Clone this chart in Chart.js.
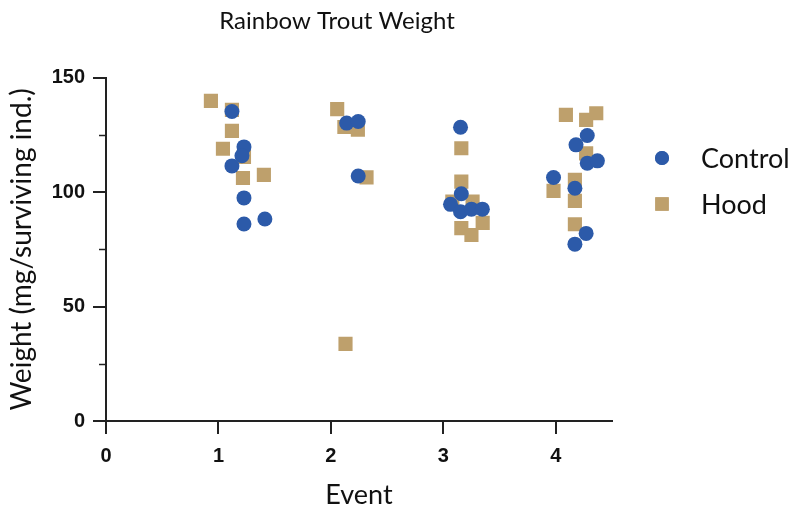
<!DOCTYPE html>
<html>
<head>
<meta charset="utf-8">
<script src="https://cdn.jsdelivr.net/npm/chart.js@4.4.1/dist/chart.umd.min.js"></script>
<style>
  html, body { margin: 0; padding: 0; background: #fff; }
  #wrap { width: 792px; height: 512px; }
</style>
</head>
<body>
<div id="wrap"><canvas id="chart-trout"></canvas></div>
<script>
// Values (x = event with jitter, y = weight)
const CONTROL_X = [1.12, 1.227, 1.209, 1.12, 1.227, 1.227, 1.413, 2.14, 2.243, 2.243, 3.153, 3.16, 3.064, 3.153, 3.25, 3.347, 4.28, 4.18, 4.28, 4.37, 3.98, 4.17, 4.27, 4.17];
const CONTROL_Y = [135.3, 119.8, 115.9, 111.5, 97.5, 86.1, 88.3, 130.2, 130.9, 107.1, 128.4, 99.3, 94.7, 91.5, 92.6, 92.6, 124.8, 120.7, 112.7, 113.7, 106.4, 101.7, 82, 77.3];
const HOOD_X = [0.933, 1.12, 1.12, 1.04, 1.227, 1.218, 1.404, 2.056, 2.12, 2.24, 2.317, 2.13, 3.16, 3.16, 3.08, 3.26, 3.35, 3.16, 3.25, 4.09, 4.27, 4.36, 4.27, 4.17, 3.98, 4.17, 4.17];
const HOOD_Y = [139.9, 136, 126.8, 119, 115.4, 106.2, 107.6, 136.3, 128.5, 127.3, 106.5, 33.7, 119.2, 104.6, 95.9, 95.9, 86.6, 84.3, 81.3, 133.8, 131.6, 134.5, 117, 105.4, 100.6, 96.2, 86];
const X_TICKS = [0, 1, 2, 3, 4];
const Y_TICKS = [0, 50, 100, 150];
const Y_MINOR = [25, 75, 125];

const BLUE = "#2c5aa9";
const TAN = "#bea06c";
const AXIS = "#222";

const toPoints = (xs, ys) => xs.map((x, i) => ({ x: x, y: ys[i] }));

// minor ticks on the y axis + right-side legend
const extrasPlugin = {
	id: "extras",
	afterDraw(chart) {
		const ctx = chart.ctx;
		const y = chart.scales.y;
		ctx.save();
		ctx.strokeStyle = AXIS;
		ctx.lineWidth = 1.5;
		Y_MINOR.forEach((v) => {
			const py = Math.round(y.getPixelForValue(v)) + 0.5;
			ctx.beginPath();
			ctx.moveTo(y.right - 7, py);
			ctx.lineTo(y.right, py);
			ctx.stroke();
		});

		// legend
		let ly = 158;
		chart.data.datasets.forEach((ds) => {
			ctx.fillStyle = ds.backgroundColor;
			ctx.beginPath();
			Chart.helpers.drawPoint(ctx, { pointStyle: ds.pointStyle, radius: ds.legendRadius, borderWidth: 0 }, 662, ly);
			ctx.fill();
			ctx.fillStyle = "#111";
			ctx.font = "27px Lato";
			ctx.textBaseline = "middle";
			ctx.textAlign = "left";
			ctx.fillText(ds.label, 701, ly + 1);
			ly += 46;
		});
		ctx.restore();
	},
};

const CHART_CONFIG = {
	type: "scatter",
	data: {
		datasets: [
			{
				label: "Control",
				data: toPoints(CONTROL_X, CONTROL_Y),
				pointStyle: "circle",
				pointRadius: 7.5,
				legendRadius: 7,
				backgroundColor: BLUE,
				borderWidth: 0,
			},
			{
				label: "Hood",
				data: toPoints(HOOD_X, HOOD_Y),
				pointStyle: "rect",
				pointRadius: 10,
				legendRadius: 9.5,
				backgroundColor: TAN,
				borderWidth: 0,
			},
		],
	},
	options: {
		responsive: true,
		maintainAspectRatio: false,
		animation: false,
		layout: {
			padding: { left: 0, right: 118, top: 0, bottom: 0 },
		},
		plugins: {
			legend: { display: false },
			tooltip: { enabled: false },
			title: {
				display: true,
				text: "Rainbow Trout Weight",
				color: "#111",
				font: { family: "Lato", size: 24, weight: "normal" },
				padding: { top: 7, bottom: 42 },
			},
		},
		scales: {
			x: {
				type: "linear",
				min: 0,
				max: 4.5,
				afterFit: (s) => { s.height = 91; },
				afterBuildTicks: (s) => { s.ticks = X_TICKS.map((v) => ({ value: v })); },
				border: { display: true, color: AXIS, width: 2 },
				grid: { display: true, drawOnChartArea: false, drawTicks: true, tickLength: 13, color: AXIS, lineWidth: 2 },
				ticks: {
					color: "#111",
					padding: 10,
					maxRotation: 0,
					font: { family: "Liberation Sans", size: 20, weight: "bold" },
				},
				title: {
					display: true,
					text: "Event",
					color: "#111",
					font: { family: "Lato", size: 27 },
					padding: { top: 0, bottom: 1 },
				},
			},
			y: {
				min: 0,
				max: 150,
				afterFit: (s) => { s.width = 106; },
				afterBuildTicks: (s) => { s.ticks = Y_TICKS.map((v) => ({ value: v })); },
				border: { display: true, color: AXIS, width: 2 },
				grid: { display: true, drawOnChartArea: false, drawTicks: true, tickLength: 13, color: AXIS, lineWidth: 2 },
				ticks: {
					color: "#111",
					padding: 8,
					font: { family: "Liberation Sans", size: 20, weight: "bold" },
				},
				title: {
					display: true,
					text: "Weight (mg/surviving ind.)",
					color: "#111",
					font: { family: "Lato", size: 28 },
					padding: { top: 5, bottom: 0 },
				},
			},
			// empty spacer on the right, keeps the title centred like the original
			spacer: {
				axis: "y",
				position: "right",
				display: true,
				afterFit: (s) => { s.width = 62; },
				border: { display: false },
				grid: { display: false },
				ticks: { display: false },
			},
		},
	},
	plugins: [extrasPlugin],
};

const CHART_WRAPPER = document.getElementById("chart-trout");
if (CHART_WRAPPER) {
	new Chart(CHART_WRAPPER, CHART_CONFIG);
}
</script>
</body>
</html>
